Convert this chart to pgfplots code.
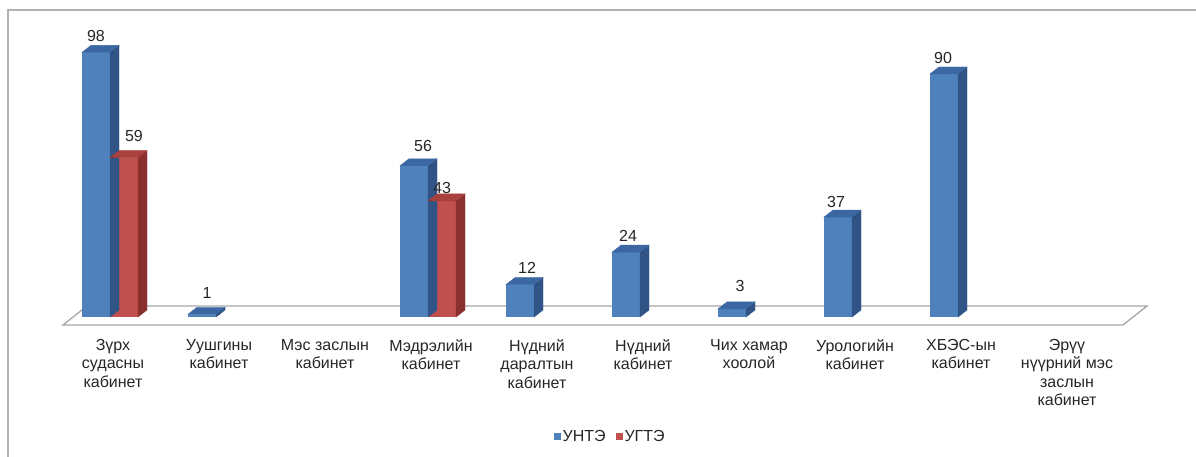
\documentclass[border=0pt]{standalone}
\usepackage{pgfplots}
\pgfplotsset{compat=1.18}
\usepackage{pgfplotstable}
\usepackage{fontspec}
\setmainfont{Liberation Sans}

\definecolor{bfront}{HTML}{4F81BD}
\definecolor{btop}{HTML}{3B67A2}
\definecolor{bside}{HTML}{2F5485}
\definecolor{rfront}{HTML}{C0504D}
\definecolor{rtop}{HTML}{A8403D}
\definecolor{rside}{HTML}{8A302E}
\definecolor{txt}{HTML}{262626}
\definecolor{floorline}{HTML}{A6A6A6}

\newcommand\lab{\fontsize{16}{18.5}\selectfont}

% x = category, y = value, lab = value/dx/dy of the value label (pt)
\pgfplotstableread{
x y lab
0 98 98/0/16
1 1 1/5/21
3 56 56/9/20
4 12 12/7/17
5 24 24/2/16
6 3 3/8/23
7 37 37/-2/15
8 90 90/-1/16
}\unte
\pgfplotstableread{
x y lab
0 59 59/10/22
3 43 43/0/13
}\ugte

\def\splitlab#1/#2/#3\relax{\def\val{#1}\def\dx{#2}\def\dy{#3}}

% top and side faces of the bars plus value label
% #1 left edge, #2 right edge, #3 front centre, #4 top colour, #5 side colour (pt from tick)
\pgfplotsset{
  depth/.style n args={5}{
    scatter, only marks, forget plot,
    point meta=explicit symbolic,
    mark=*, mark size=0.1pt, mark options={draw=none, fill=none},
    scatter/@pre marker code/.code={
      \expandafter\splitlab\pgfplotspointmeta\relax
      \pgfmathsetmacro\h{\val*2.7}
      \fill[#5] (#2pt,0pt) -- ++(9pt,7pt) -- ++(0pt,-\h pt) -- (#2pt,-\h pt) -- cycle;
      \fill[#4] (#1pt,0pt) -- ++(9pt,7pt) -- ++(28pt,0pt) -- (#2pt,0pt) -- cycle;
      \node[font=\lab, text=txt, inner sep=0pt, anchor=center]
        at (#3pt+\dx pt,\dy pt) {\val};
    },
    scatter/@post marker code/.code={},
  },
}

\begin{document}
\begin{tikzpicture}
\useasboundingbox (0,0) rectangle (1196pt,457pt);
\draw[black!30, line width=1.2pt] (8pt,0pt) -- (8pt,447pt) -- (1196pt,447pt);
\begin{axis}[
  at={(60pt,140pt)}, anchor=south west,
  x=106pt, y=2.7pt,
  xmin=-0.5, xmax=9.5, ymin=0, ymax=100,
  clip=false,
  axis line style={draw=none},
  ytick=\empty,
  xtick={0,...,9},
  major tick length=0pt,
  xticklabels={
    {Зүрх\\судасны\\кабинет},
    {Уушгины\\кабинет},
    {Мэс заслын\\кабинет},
    {Мэдрэлийн\\кабинет},
    {Нүдний\\даралтын\\кабинет},
    {Нүдний\\кабинет},
    {Чих хамар\\хоолой},
    {Урологийн\\кабинет},
    {ХБЭС-ын\\кабинет},
    {Эрүү\\нүүрний мэс\\заслын\\кабинет}},
  xticklabel style={font=\lab, text=txt, align=center, anchor=north,
    inner sep=0pt, yshift=-22pt},
  legend image code/.code={\fill[#1] (0pt,-3.5pt) rectangle (7pt,3.5pt);},
  legend style={at={(0.519,-0.444)}, anchor=center, draw=none, fill=none,
    legend columns=2, font=\lab, text=txt,
    /tikz/every even column/.append style={column sep=8pt}},
]
% floor
\draw[fill=white, draw=floorline, line width=1.3pt]
  (axis cs:-0.472,-2.96) -- (axis cs:9.528,-2.96) --
  (axis cs:9.755,4.07) -- (axis cs:-0.245,4.07) -- cycle;

\addplot[ybar, bar width=28pt, bar shift=-17pt, fill=bfront, draw=none]
  table[x=x, y=y] {\unte};
\addlegendentry{УНТЭ}
\addplot[depth={-31}{-3}{-17}{btop}{bside}] table[x=x, y=y, meta=lab] {\unte};

\addplot[ybar, bar width=28pt, bar shift=11pt, fill=rfront, draw=none]
  table[x=x, y=y] {\ugte};
\addlegendentry{УГТЭ}
\addplot[depth={-3}{25}{11}{rtop}{rside}] table[x=x, y=y, meta=lab] {\ugte};
\end{axis}
\end{tikzpicture}
\end{document}
